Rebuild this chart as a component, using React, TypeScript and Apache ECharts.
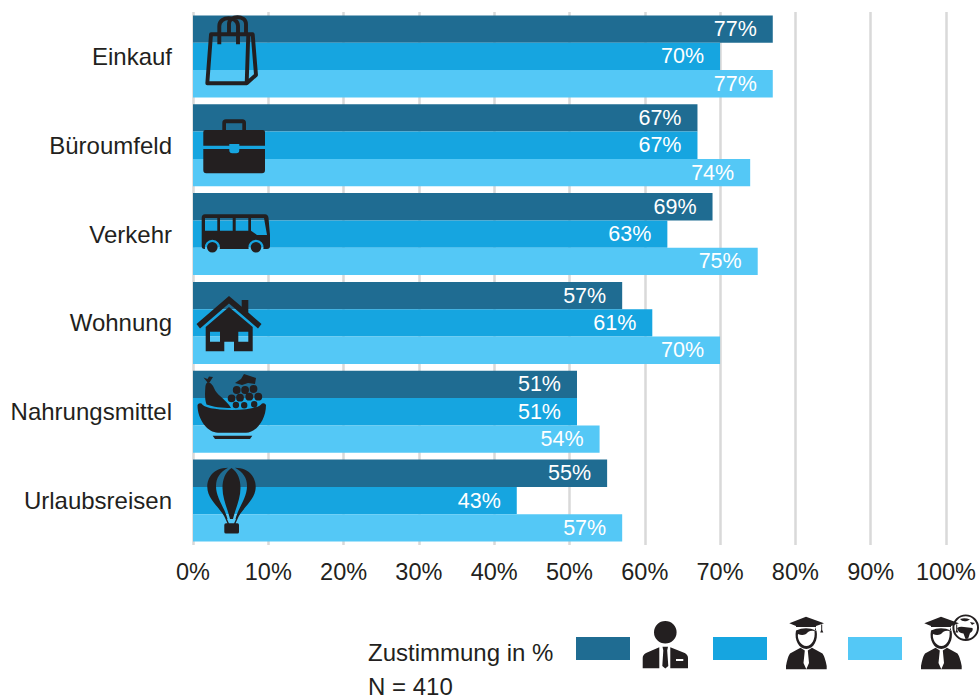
import React, { useEffect, useRef } from "react";
import * as echarts from "echarts";

const categories = ["Einkauf", "Büroumfeld", "Verkehr", "Wohnung", "Nahrungsmittel", "Urlaubsreisen"];
const seriesNames = ["Berufstätige", "Studierende", "Studierende mit Auslandserfahrung"];
const valuesA = [77, 67, 69, 57, 51, 55];
const valuesB = [70, 67, 63, 61, 51, 43];
const valuesC = [77, 74, 75, 70, 54, 57];
const colors = ["#1f6c92", "#16a5e0", "#54c8f6"];
const ink = "#231f20";

const shapes: Record<string, string> = {
  bagIcon:
    "M211 34.3H252.7L256 75L246.7 83.3H207.3ZM248.3 34.3L246.7 83.3M219.3 44.3V26C219.3 15.5 238 15.5 238 26V44.3M229 33V24C229 15 246 15 246 24V34",
  caseIcon:
    "M205.3 130H263Q265 130 265 132V145.7H239.3V144H229.3V145.7H203.3V132Q203.3 130 205.3 130Z" +
    "M203.3 149H229.3V150Q229.3 153.3 232.3 153.3H236.3Q239.3 153.3 239.3 150V149H265V170Q265 173.3 262 173.3H206.3Q203.3 173.3 203.3 170Z" +
    "M222.3 130V123Q222.3 119.3 226 119.3H242.3Q246 119.3 246 123V130H242.3V123.3H226V130Z",
  busIcon:
    "M205 214.3H265Q268 214.3 268.5 218L270 235V246Q270 249 267 249H263.3A7.5 7.5 0 1 0 248.7 249H219.7A7.5 7.5 0 1 0 205.1 249H204.5Q201.7 249 201.7 246V218Q201.7 214.3 205 214.3Z" +
    "M205 218V230.7H217.3V218Z M220 218V230.7H232.7V218Z M235.7 218V230.7H248.3V218Z" +
    "M251 218V230.7L257 235H267L264 218Z" +
    "M207 247.3A5.3 5.3 0 1 0 217.6 247.3A5.3 5.3 0 1 0 207 247.3Z" +
    "M250.7 247.3A5.3 5.3 0 1 0 261.3 247.3A5.3 5.3 0 1 0 250.7 247.3Z",
  houseIcon:
    "M229 296L241.7 306.8V300H248.3V312.5L261.5 324L258 328.5L229 303.5L200 328.5L196.5 324Z" +
    "M229 307L252.7 327V351.3H234V341.7H224.3V351.3H205.7V327Z" +
    "M210 331.7V341.7H220V331.7Z M238.3 331.7V341.7H248.3V331.7Z",
  fruitIcon:
    "M197.5 405Q198.5 402.5 201.5 403.5Q205 409.5 232 410Q258 409.5 262 403.5Q265 402.5 266 405C266 420 256 432.7 246 432.7H218C208 432.7 197.5 420 197.5 405Z" +
    "M212.7 435.7H252.3L250 439H215Z" +
    "M208 382.5C212 382.5 213.5 387 215.5 391C218.5 396 227 400.5 231 408C222 408 213 407 206.5 404.5C204.5 399 205 392 205.3 388C205.5 385 206 382.5 208 382.5Z" +
    "M207.5 382.5L203.5 377.5L207.5 379L209 376.5L213 377L209.5 382.5Z" +
    "M235 383L241 379L244 374L250 376L256 378L255 384L248 383L242 385Z" +
    "M232.8 390a3.9 3.9 0 1 0 7.8 0a3.9 3.9 0 1 0 -7.8 0Z M241.2 390a3.9 3.9 0 1 0 7.8 0a3.9 3.9 0 1 0 -7.8 0Z M249.6 389a3.9 3.9 0 1 0 7.8 0a3.9 3.9 0 1 0 -7.8 0Z" +
    "M227.7 398.3a3.9 3.9 0 1 0 7.8 0a3.9 3.9 0 1 0 -7.8 0Z M236.1 397.7a3.9 3.9 0 1 0 7.8 0a3.9 3.9 0 1 0 -7.8 0Z M245.4 396.7a3.9 3.9 0 1 0 7.8 0a3.9 3.9 0 1 0 -7.8 0Z M254.4 396.7a3.9 3.9 0 1 0 7.8 0a3.9 3.9 0 1 0 -7.8 0Z" +
    "M232.7 405a3.2 3.2 0 1 0 6.4 0a3.2 3.2 0 1 0 -6.4 0Z M241 405.3a3.2 3.2 0 1 0 6.4 0a3.2 3.2 0 1 0 -6.4 0Z M251 404.3a3.2 3.2 0 1 0 6.4 0a3.2 3.2 0 1 0 -6.4 0Z",
  balloonIcon:
    "M231.5 468C238 472 240.5 480 240.5 488C240.5 499 235 510 233 519H230C228 510 222.5 499 222.5 488C222.5 480 225 472 231.5 468Z" +
    "M228 467.8C213 468 207.3 478 207.3 487C207.3 500 221 508 225.5 519H227.5C224 506 216 498 216 486C216 478 220 472 228 467.8Z" +
    "M235 467.8C243 472 247 478 247 486C247 498 239 506 235.5 519H237.5C242 508 255.7 500 255.7 487C255.7 478 250 468 235 467.8Z" +
    "M225.5 519H227L229 523.5H227.5Z M236 519H237.5L235.5 523.5H234Z" +
    "M226 523.3H237.5Q239 523.3 239 525V532Q239 533.5 237.5 533.5H226Q224.3 533.5 224.3 532V525Q224.3 523.3 226 523.3Z",
  personIcon:
    "M654 632.3a11.3 11.3 0 1 0 22.6 0a11.3 11.3 0 1 0 -22.6 0Z" +
    "M659.3 647.3V668.3H642.7V658Q642.7 655 646 653Z" +
    "M670.3 647.3L684.7 653Q688 655 688 658V668.3H670.3Z M676 659V661H683.3V659Z" +
    "M662.5 646.7H668L667.2 650.5L668.3 666L665.3 668.5L662.3 666L663.3 650.5Z",
  gradIcon:
    "M806 616.7L824 623.3L816 626V630.5Q806 626 796 630.5V626L789.3 623.3Z" +
    "M821.2 624.5H822.2V630L823.3 632.5H820.2L821.2 630Z" +
    "M796 630.5C794 640 799 649 806.3 649C813.6 649 818.5 640 816.5 630.5L814.5 631C815.5 639 812 646 806.3 646C801 646 797 639 798 634C802 636 806 635 808 632Q811 630 814.5 631L816 627L796 627Z" +
    "M800.5 647.7L804.8 650.5L803.5 663L806.3 669.3L786 669.3V666Q787.5 657 790 653.5Z" +
    "M812 647.7L822.5 653.5Q825 657 826.7 666V669.3H806.3L809 663L807.8 650.5Z",
  globeIcon:
    "M952.4 627.7A13.3 13.3 0 1 0 979 627.7A13.3 13.3 0 1 0 952.4 627.7ZM954.4 627.7A11.3 11.3 0 1 1 977 627.7A11.3 11.3 0 1 1 954.4 627.7Z" +
    "M957 628Q960 626 964 627L972.5 628Q973.5 631 970 633L968 639H965.5L963.5 633.5Q958 633 957 628Z" +
    "M960 619Q965 617.5 970 619.5L967 621Q962 622 960 619Z M970 622L975 623L972 625Z",
};
const bagStroke = { fill: "none", stroke: ink, lineWidth: 3.9, lineJoin: "round", lineCap: "butt" };
const solid = { fill: ink };
const iconList: { type: string; x?: number; style: object }[] = [
  { type: "bagIcon", style: bagStroke },
  { type: "caseIcon", style: solid },
  { type: "busIcon", style: solid },
  { type: "houseIcon", style: solid },
  { type: "fruitIcon", style: solid },
  { type: "balloonIcon", style: solid },
  { type: "personIcon", style: solid },
  { type: "gradIcon", style: solid },
  { type: "gradIcon", x: 135, style: solid },
  { type: "globeIcon", style: solid },
];
Object.keys(shapes).forEach((name) => {
  echarts.graphic.registerShape(name, echarts.graphic.extendPath(shapes[name], {}));
});

const font = "'Liberation Sans', Arial, sans-serif";
const textColor = "#231f20";

export default function App() {
  const ref = useRef<HTMLDivElement>(null);
  useEffect(() => {
    const chart = echarts.init(ref.current!, undefined, { renderer: "svg" });
    const makeSeries = (i: number, values: number[]) => ({
      type: "bar",
      name: seriesNames[i],
      data: values,
      barWidth: 27.35,
      barGap: 0,
      itemStyle: { color: colors[i] },
      label: {
        show: true,
        position: "insideRight",
        distance: 16,
        color: "#ffffff",
        fontFamily: font,
        fontSize: 21.5,
        formatter: "{c}%",
      },
    });
    const legendAt = (i: number, left: number) => ({
      data: [seriesNames[i]],
      left,
      top: 637,
      padding: 0,
      itemWidth: 54,
      itemHeight: 23,
      icon: "rect",
      selectedMode: false,
      formatter: () => "",
    });
    chart.setOption({
      animation: false,
      backgroundColor: "#ffffff",
      grid: { left: 193, width: 753, top: 12, height: 533, containLabel: false },
      xAxis: {
        type: "value",
        min: 0,
        max: 100,
        interval: 10,
        axisLine: { show: false },
        axisTick: { show: false },
        splitLine: { show: true, lineStyle: { color: "#d9d9d9", width: 2.5 } },
        axisLabel: {
          formatter: "{value}%",
          fontFamily: font,
          fontSize: 23.5,
          color: textColor,
          margin: 15,
          hideOverlap: false,
        },
      },
      yAxis: {
        type: "category",
        inverse: true,
        data: categories,
        axisLine: { show: false },
        axisTick: { show: false },
        splitLine: { show: false },
        axisLabel: { fontFamily: font, fontSize: 24, color: textColor, margin: 21 },
      },
      legend: [legendAt(0, 576), legendAt(1, 713), legendAt(2, 848)],
      series: [makeSeries(0, valuesA), makeSeries(1, valuesB), makeSeries(2, valuesC)],
      graphic: [
        ...iconList.map((ic) => ({
          type: ic.type,
          x: ic.x ?? 0,
          y: 0,
          z: 20,
          silent: true,
          style: ic.style,
        })),
        {
          type: "text",
          left: 368,
          top: 640,
          z: 20,
          style: { text: "Zustimmung in %", fontFamily: font, fontSize: 24, fill: textColor },
        },
        {
          type: "text",
          left: 368,
          top: 674,
          z: 20,
          style: { text: "N = 410", fontFamily: font, fontSize: 24, fill: textColor },
        },
      ],
    });
    return () => chart.dispose();
  }, []);
  return <div ref={ref} style={{ position: "absolute", left: 0, top: 0, width: 979, height: 699 }} />;
}
